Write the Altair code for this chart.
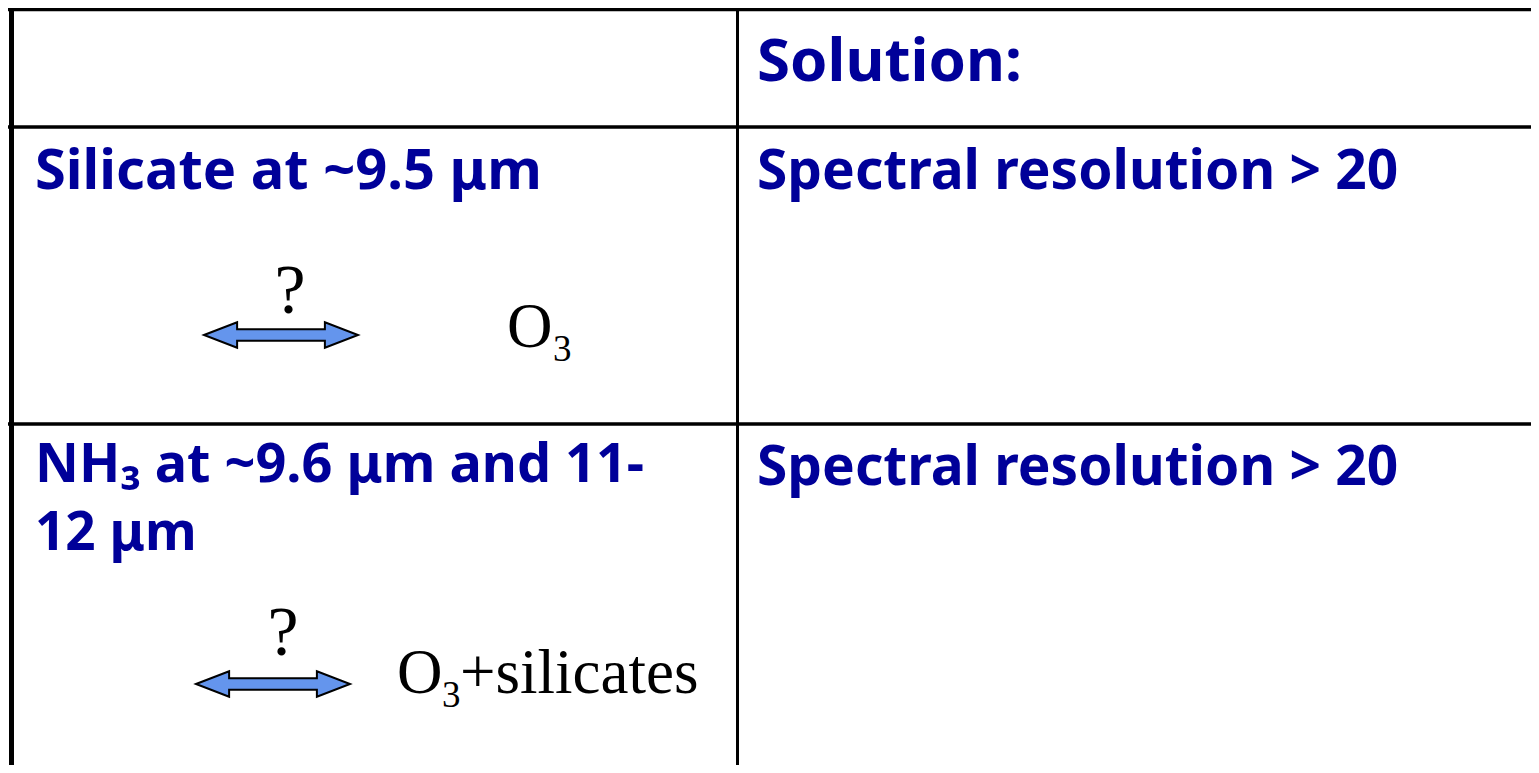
import altair as alt
import pandas as pd

# ---- table grid lines (screen-pixel coordinates)
line_x1 = [11.5, 737.5, 8, 8, 8]
line_x2 = [11.5, 737.5, 1531, 1531, 1531]
line_y1 = [8, 8, 9.5, 127, 424]
line_y2 = [765, 765, 9.5, 127, 424]
line_w = [5, 3, 3.5, 3.5, 3.5]

# ---- blue bold text cells
blue_text = ["Solution:", "Silicate at ~9.5 \u03bcm", "Spectral resolution > 20",
             "NH\u2083 at ~9.6 \u03bcm and 11-", "12 \u03bcm", "Spectral resolution > 20"]
blue_x = [757, 35, 757, 35, 35, 757]
blue_y = [81, 189, 189, 482, 550, 485]
blue_size = [60, 56, 55, 54, 53, 55]

# ---- black serif annotations
serif_text = ["?", "O", "3", "?", "O", "3", "+silicates"]
serif_x = [290, 507, 553, 283, 397, 442, 460]
serif_y = [313, 347, 361, 655, 693, 707, 693]
serif_size = [70, 63, 37, 70, 63, 37, 63]
serif_align = ["center", "left", "left", "center", "left", "left", "left"]

# ---- double arrows (centre positions)
arrow_x = [281, 273]
arrow_y = [335, 684]

W, H = 1523, 757
xs = alt.Scale(domain=[8, 8 + W])
ys = alt.Scale(domain=[8 + H, 8])

lines = pd.DataFrame({"x": line_x1, "x2": line_x2, "y": line_y1, "y2": line_y2, "w": line_w})
blue = pd.DataFrame({"t": blue_text, "x": blue_x, "y": blue_y, "s": blue_size})
serif = pd.DataFrame({"t": serif_text, "x": serif_x, "y": serif_y, "s": serif_size, "a": serif_align})
arrows = pd.DataFrame({"x": arrow_x, "y": arrow_y})

rules = alt.Chart(lines).mark_rule(color="black").encode(
    x=alt.X("x:Q", scale=xs, axis=None),
    x2="x2:Q",
    y=alt.Y("y:Q", scale=ys, axis=None),
    y2="y2:Q",
    strokeWidth=alt.StrokeWidth("w:Q", scale=None),
)

arrow_path = ("M -1 0 L -0.57 -0.165 L -0.57 -0.075 L 0.57 -0.075 L 0.57 -0.165 "
              "L 1 0 L 0.57 0.165 L 0.57 0.075 L -0.57 0.075 L -0.57 0.165 Z")
arr = alt.Chart(arrows).mark_point(
    shape=arrow_path, size=154 * 154, filled=True, fill="#6495ED",
    stroke="black", strokeWidth=2, opacity=1,
).encode(
    x=alt.X("x:Q", scale=xs, axis=None),
    y=alt.Y("y:Q", scale=ys, axis=None),
)

blue_layer = alt.Chart(blue).mark_text(
    font="Noto Sans", fontWeight="bold", color="#000099", align="left", baseline="alphabetic",
).encode(
    x=alt.X("x:Q", scale=xs, axis=None),
    y=alt.Y("y:Q", scale=ys, axis=None),
    text="t:N",
    size=alt.Size("s:Q", scale=None),
)

serif_layers = []
for al in ["left", "center"]:
    serif_layers.append(
        alt.Chart(serif[serif["a"] == al]).mark_text(
            font="Liberation Serif", color="black", align=al, baseline="alphabetic",
        ).encode(
            x=alt.X("x:Q", scale=xs, axis=None),
            y=alt.Y("y:Q", scale=ys, axis=None),
            text="t:N",
            size=alt.Size("s:Q", scale=None),
        )
    )

chart = alt.layer(rules, arr, blue_layer, *serif_layers).properties(
    width=W, height=H, padding=0, autosize=alt.AutoSizeParams(type="none"),
    background="white",
).configure_view(strokeWidth=0)

chart.save("out.html", embed_options={"renderer": "svg", "actions": False})
